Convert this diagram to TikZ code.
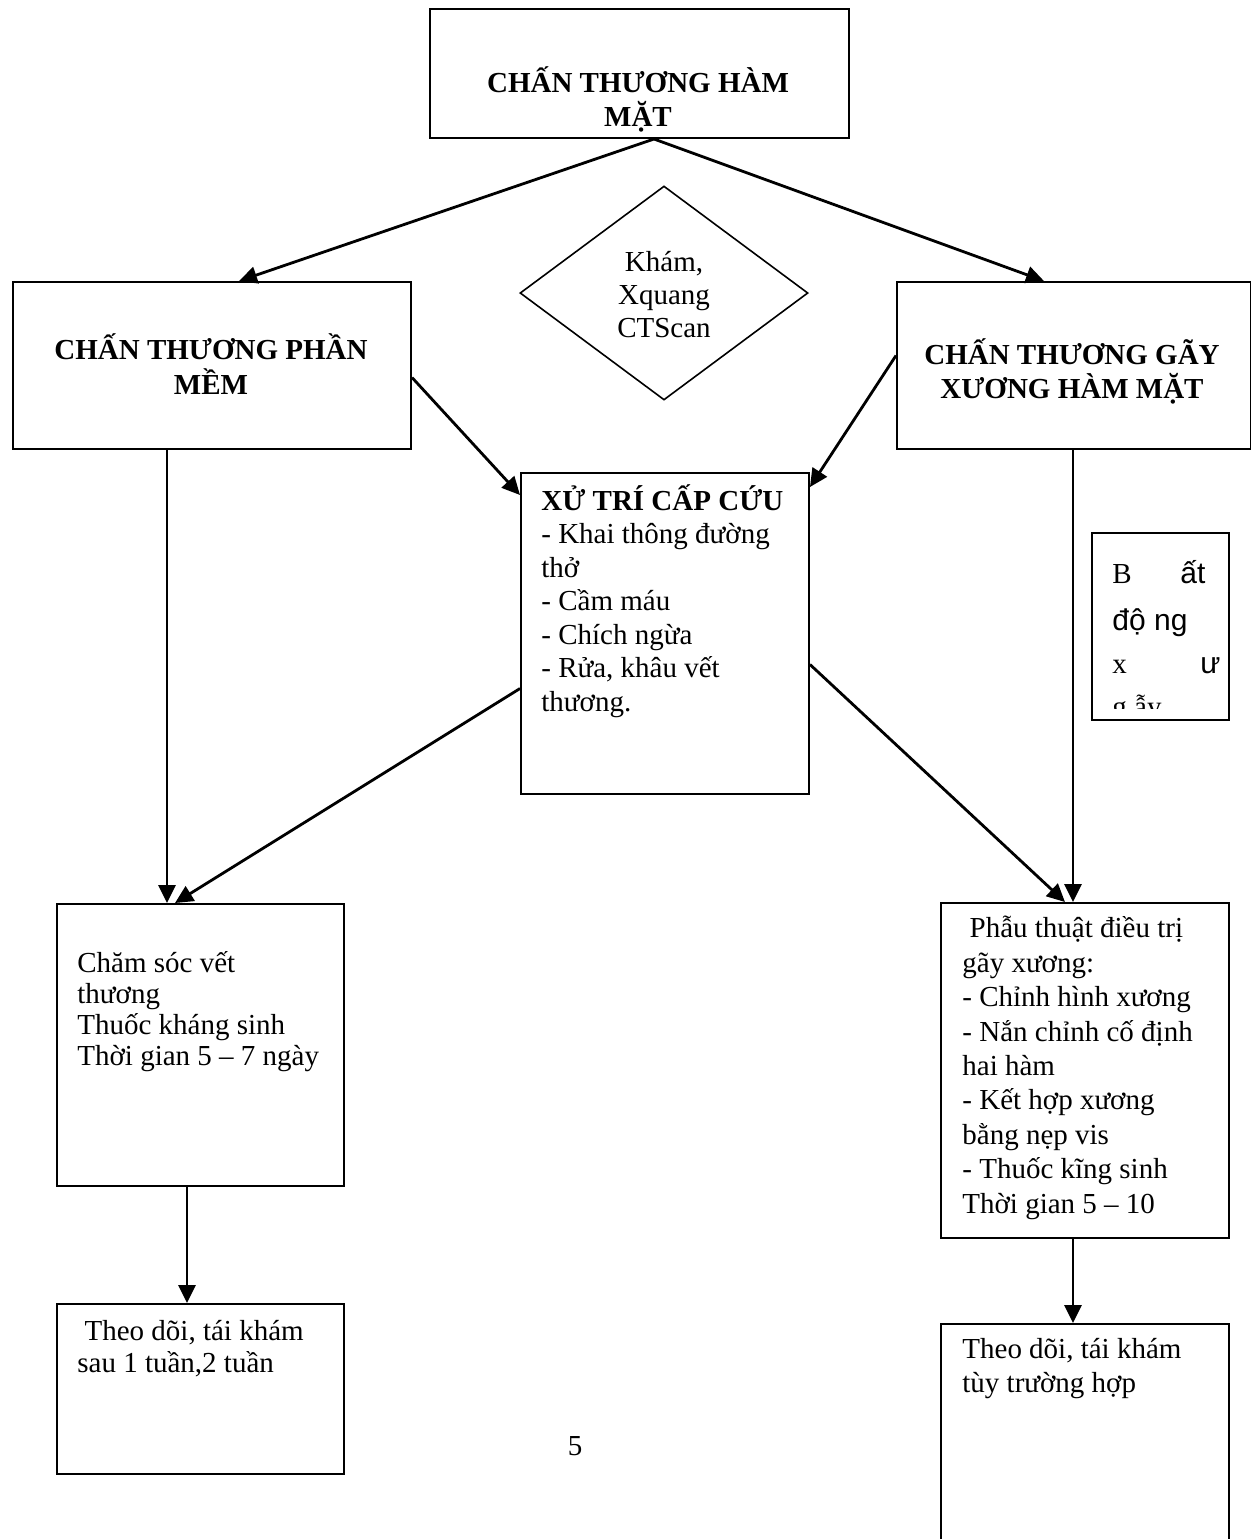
\documentclass[tikz,border=0pt]{standalone}
\usepackage{fontspec}
\setmainfont{Liberation Serif}
\newfontfamily\arialf{Liberation Sans}
\usetikzlibrary{arrows.meta,calc,shapes.geometric}
\begin{document}
\begin{tikzpicture}[x=0.5pt,y=-0.5pt,
  box/.style={draw,line width=1pt,rectangle,inner sep=0pt,anchor=north west},
  arr/.style={line width=1.4pt,-{Triangle[length=9pt,width=8.5pt]}},
  hd/.style={inner sep=0pt,align=center,anchor=base,font=\bfseries\fontsize{14.5pt}{17pt}\selectfont},
  txt/.style={inner sep=0pt,font=\fontsize{14.5pt}{16.5pt}\selectfont},
  sans/.style={inner sep=0pt,font=\arialf\fontsize{15pt}{17pt}\selectfont}]
\useasboundingbox (0,0) rectangle (1251,1539);

% boxes
\node[box,minimum width=209.5pt,minimum height=64.5pt] (top) at (429,8) {};
\node[box,minimum width=199pt,minimum height=83.5pt] (soft) at (12,281) {};
\node[draw,diamond,line width=0.8pt,minimum width=144pt,minimum height=107pt,inner sep=0pt] (dia) at (664,293) {};
\node[box,minimum width=177pt,minimum height=83.5pt] (fract) at (896,281) {};
\node[box,minimum width=144pt,minimum height=160.5pt] (emerg) at (520,472) {};
\node[box,minimum width=68.5pt,minimum height=93.5pt] (fix) at (1091,532) {};
\node[box,minimum width=143.5pt,minimum height=141pt] (care) at (56,903) {};
\node[box,minimum width=144pt,minimum height=167.5pt] (surg) at (940,902) {};
\node[box,minimum width=143.5pt,minimum height=85pt] (fol1) at (56,1303) {};
\node[box,minimum width=144pt,minimum height=125pt] (fol2) at (940,1323) {};

% connectors
\draw[arr] ($(top.south)+(14.5,0)$) -- ($(soft.north)+(27,0)$);
\draw[arr] ($(top.south)+(14.5,0)$) -- ($(fract.north)+(-30,0)$);
\draw[arr] ($(soft.east)+(0,12)$) -- ($(emerg.north west)+(0,23)$);
\draw[arr] ($(fract.west)+(0,-10)$) -- ($(emerg.north east)+(0,15)$);
\draw[arr] ($(soft.south west)+(155,0)$) -- ($(care.north west)+(111,0)$);
\draw[arr] ($(emerg.west)+(0,55)$) -- ($(care.north west)+(119,0)$);
\draw[arr] ($(emerg.east)+(0,31)$) -- ($(surg.north west)+(125,0)$);
\draw[arr] ($(fract.south west)+(177,0)$) -- ($(surg.north west)+(133,0)$);
\draw[arr] ($(care.south west)+(131,0)$) -- ($(fol1.north west)+(131,0)$);
\draw[arr] ($(surg.south west)+(133,0)$) -- ($(fol2.north west)+(133,0)$);

% texts (anchor base = baseline of the last line)
\node[hd] (topT) at (638,126) {CHẤN THƯƠNG HÀM\\MẶT};
\node[hd,font=\bfseries\fontsize{14.5pt}{17.5pt}\selectfont] (softT) at (211,394) {CHẤN THƯƠNG PHẦN\\MỀM};
\node[txt,align=center,anchor=base] (diaT) at (664,337) {Khám,\\Xquang\\CTScan};
\node[hd] (fractT) at (1072,398) {CHẤN THƯƠNG GÃY\\XƯƠNG HÀM MẶT};
\node[txt,font=\fontsize{14.5pt}{16.75pt}\selectfont,align=left,anchor=base west] (emergT) at (541,711)
  {\textbf{XỬ TRÍ CẤP CỨU}\\- Khai thông đường\\thở\\- Cầm máu\\- Chích ngừa\\- Rửa, khâu vết\\thương.};
\node[txt,font=\fontsize{14.5pt}{15.5pt}\selectfont,align=left,anchor=base west] (careT) at (77,1065)
  {Chăm sóc vết\\thương\\Thuốc kháng sinh\\Thời gian 5 – 7 ngày};
\node[txt,font=\fontsize{14.5pt}{17.2pt}\selectfont,align=left,anchor=base west] (surgT) at (962,1213)
  {\ Phẫu thuật điều trị\\gãy xương:\\- Chỉnh hình xương\\- Nắn chỉnh cố định\\hai hàm\\- Kết hợp xương\\bằng nẹp vis\\- Thuốc kĩng sinh\\Thời gian 5 – 10};
\node[txt,font=\fontsize{14.5pt}{16pt}\selectfont,align=left,anchor=base west] (fol1T) at (77,1372)
  {\ Theo dõi, tái khám\\sau 1 tuần,2 tuần};
\node[txt,font=\fontsize{14.5pt}{17pt}\selectfont,align=left,anchor=base west] (fol2T) at (962,1392)
  {Theo dõi, tái khám\\tùy trường hợp};
\node[txt,anchor=base] (pg) at (575,1455) {5};

% narrow box, broken justified text
\begin{scope}
\clip (1091,532) rectangle (1228,708);
\node[txt,anchor=base west] (f1a) at (1112,583) {B};
\node[sans,anchor=base west] (f1b) at (1180,583) {ất};
\node[sans,anchor=base west] (f2) at (1112,630) {độ ng};
\node[txt,anchor=base west] (f3a) at (1112,673) {x};
\node[sans,anchor=base west] (f3b) at (1200,673) {ư};
\node[txt,anchor=base west] (f4) at (1112,716) {g ẫy};
\end{scope}
\end{tikzpicture}
\end{document}
